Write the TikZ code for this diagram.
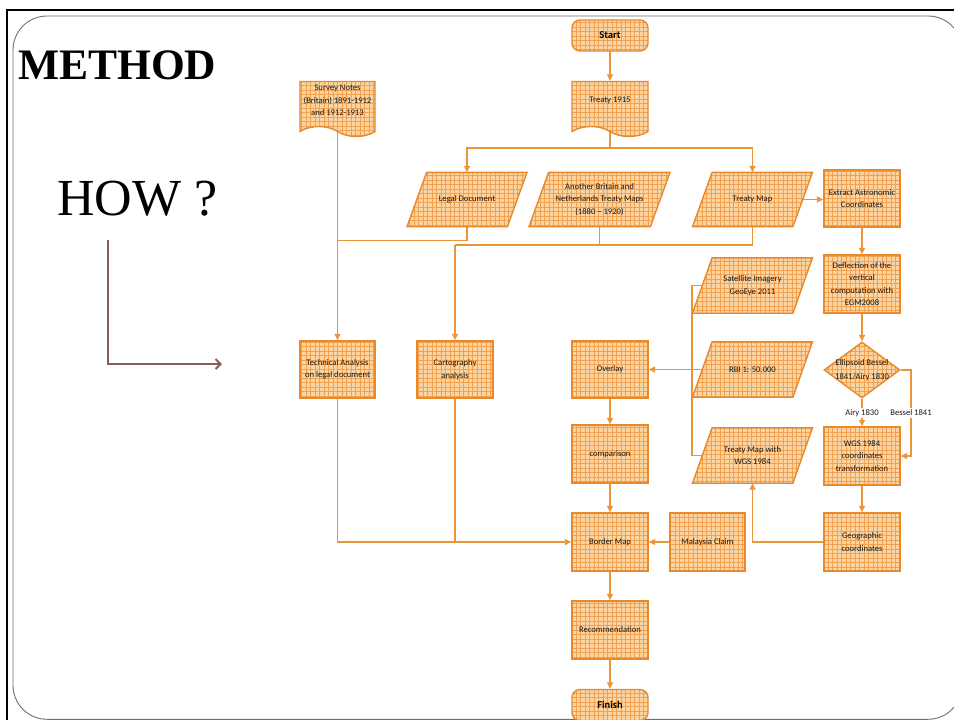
\documentclass[tikz,border=0pt]{standalone}
\usepackage{fontspec}
\setmainfont{Liberation Serif}
\newfontfamily\calfont{Carlito}
\usetikzlibrary{shapes.geometric,shapes.symbols,arrows.meta,patterns.meta,backgrounds}
\pgfdeclarelayer{paralayer}
\pgfsetlayers{background,paralayer,main}
\definecolor{nodebord}{HTML}{E8892B}
\definecolor{nodebase}{HTML}{FBD4A2}
\definecolor{gridcol}{HTML}{F0A04E}
\definecolor{conn}{HTML}{EC9438}
\definecolor{lbrown}{HTML}{8C5A5A}
\definecolor{framegray}{HTML}{707070}
\tikzset{
  boxlook/.style={draw=nodebord, line width=1.4pt, preaction={fill=nodebase},
    pattern={Hatch[angle=0,distance=4.5pt,line width=0.55pt]}, pattern color=gridcol},
  box/.style={boxlook, font=\calfont\fontsize{8.6}{12.5}\selectfont, align=center, inner sep=1pt, text=black!90},
  rbox/.style={box, rectangle, minimum width=76pt, minimum height=58pt},
  term/.style={box, rectangle, rounded corners=8pt, minimum width=76pt, minimum height=31pt,
    font=\calfont\bfseries\fontsize{10.5}{12}\selectfont, text=black},
  para/.style={rectangle, font=\calfont\fontsize{8.6}{12.5}\selectfont, align=center, inner sep=1pt,
    text=black!90, minimum width=100pt, minimum height=54pt},
  docu/.style={box, tape, tape bend top=none, tape bend bottom=out and in, tape bend height=10pt,
    minimum width=76pt, minimum height=55pt},
  dia/.style={box, diamond, minimum width=76pt, minimum height=56pt, inner sep=0pt},
  dtext/.style={font=\calfont\fontsize{8.6}{13.5}\selectfont, align=center, inner sep=0pt, text=black!90},
  link/.style={draw=conn, line width=1.5pt},
  arr/.style={link, -{Triangle[length=6.5pt,width=6pt]}},
  lab/.style={font=\calfont\fontsize{8.6}{10}\selectfont, fill=white, inner sep=1.5pt, text=black!90},
}
\newcommand\paral[1]{%
  \begin{pgfonlayer}{paralayer}
  \path[boxlook] ([xshift=9.8pt]#1.north west) -- ([xshift=9.8pt]#1.north east)
    -- ([xshift=-9.8pt]#1.south east) -- ([xshift=-9.8pt]#1.south west) -- cycle;
  \end{pgfonlayer}}
\begin{document}
\begin{tikzpicture}[x=1pt,y=-1pt]
\useasboundingbox (0,0) rectangle (954,720);
\clip (0,0) rectangle (954,720);
\begin{pgfonlayer}{background}
\fill[white] (0,0) rectangle (954,720);
\end{pgfonlayer}
% frame
\draw[black, line width=2.5pt] (7,724) -- (7,10) -- (958,10);
\draw[framegray, line width=0.9pt, rounded corners=34pt] (13,16) rectangle (962,719.3);
% titles
\node[anchor=base west, inner sep=0pt, font=\bfseries\fontsize{43.5}{43.5}\selectfont] (method) at (18,79) {METHOD};
\node[anchor=base west, inner sep=0pt, font=\fontsize{52}{52}\selectfont] (how) at (57,215) {HOW ?};
% L arrow
\coordinate (la) at (108,240);
\coordinate (lb) at (108,364);
\coordinate (lc) at (222,364);
\draw[lbrown, line width=2pt, -{Straight Barb[length=5pt,width=10pt]}] (la) -- (lb) -- (lc);
% nodes
\node[term] (start) at (610,35.5) {Start};
\node[docu] (t1915) at (610,104) {};
\node[dtext, font=\calfont\fontsize{8.6}{12.5}\selectfont] (t1915t) at (610,100.5) {Treaty 1915};
\node[docu, minimum width=75pt] (survey) at (337.5,104) {};
\node[dtext, font=\calfont\fontsize{8.6}{12.7}\selectfont] (surveyt) at (337.5,100.5) {Survey Notes\\(Britain) 1891-1912\\and 1912-1913};
\node[para] (legal) at (467,199.5) {Legal Document}; \paral{legal}
\node[para, minimum width=121pt] (another) at (599.5,199.5) {Another Britain and\\Netherlands Treaty Maps\\(1880 – 1920)}; \paral{another}
\node[para] (tmap) at (752.5,199.5) {Treaty Map}; \paral{tmap}
\node[rbox, minimum height=57pt] (extract) at (862,198.5) {Extract Astronomic\\Coordinates};
\node[rbox] (deflect) at (862,284) {Deflection of the\\vertical\\computation with\\EGM2008};
\node[dia] (ellip) at (862,370) {};
\node[dtext] (ellipt) at (862,370) {Ellipsoid Bessel\\1841/Airy 1830};
\node[rbox] (wgs) at (862,456) {WGS 1984\\coordinates\\transformation};
\node[rbox] (geo) at (862,542) {Geographic\\coordinates};
\node[para, minimum height=55pt] (sat) at (752.5,285.5) {Satellite Imagery\\GeoEye 2011}; \paral{sat}
\node[para, minimum height=55pt] (rbi) at (752.5,369.5) {RBI 1: 50.000}; \paral{rbi}
\node[para, minimum height=55pt] (twgs) at (752.5,455.5) {Treaty Map with\\WGS 1984}; \paral{twgs}
\node[rbox, minimum height=57pt] (overlay) at (610,369.5) {Overlay};
\node[rbox] (comp) at (610,454) {comparison};
\node[rbox] (border) at (610,542) {Border Map};
\node[rbox, minimum width=75pt] (malay) at (707.5,542) {Malaysia Claim};
\node[rbox] (recom) at (610,630) {Recommendation};
\node[term] (finish) at (610,705) {Finish};
\node[rbox, minimum width=75pt, minimum height=57pt] (tech) at (337.5,369.5) {Technical Analysis\\on legal document};
\node[rbox, minimum height=57pt] (carto) at (455,369.5) {Cartography\\analysis};
% connectors
\begin{scope}[on background layer]
\draw[arr] (start) -- (t1915);
\coordinate (j1) at (610,148);
\draw[link] (t1915.center) -- (j1);
\draw[arr] (j1) -| (legal.north);
\draw[arr] (j1) -| (tmap.north);
\draw[arr] (survey.center) -- (tech.north);
\coordinate (j2) at (337.5,240.5);
\draw[link] (legal.center) |- (j2);
\coordinate (j3) at (455,245);
\draw[link] (tmap.center) |- (j3);
\draw[arr] (j3) -- (carto.north);
\draw[link] (another.center) -- (another.center |- j3);
\draw[arr] (tmap.east) -- (tmap.east -| extract.west);
\draw[arr] (extract) -- (deflect);
\draw[arr] (deflect) -- (ellip);
\draw[arr] (ellip) -- (wgs);
\coordinate (j4) at (911,370);
\coordinate (j5) at (911,456);
\draw[arr] (ellip.east) -- (j4) -- (j5) -- (wgs.east);
\draw[arr] (wgs) -- (geo);
\coordinate (j6) at (752.5,542);
\draw[arr] (geo.west) -- (j6) -- (twgs.south);
\coordinate (j7) at (692,285.5);
\coordinate (j8) at (692,455.5);
\draw[link] (sat.center) -- (j7) -- (j8) -- (twgs.center);
\draw[arr] (rbi.center) -- (rbi.center -| overlay.east);
\draw[arr] (overlay) -- (comp);
\draw[arr] (comp) -- (border);
\draw[arr] (border) -- (recom);
\draw[arr] (recom) -- (finish);
\draw[arr] (malay) -- (border);
\draw[arr] (tech.center) |- (border.west);
\draw[link] (carto.center) -- (carto.center |- border.west);
\node[lab] (airy) at (862,413) {Airy 1830};
\node[lab] (bessel) at (911,413) {Bessel 1841};
\end{scope}
\end{tikzpicture}
\end{document}
